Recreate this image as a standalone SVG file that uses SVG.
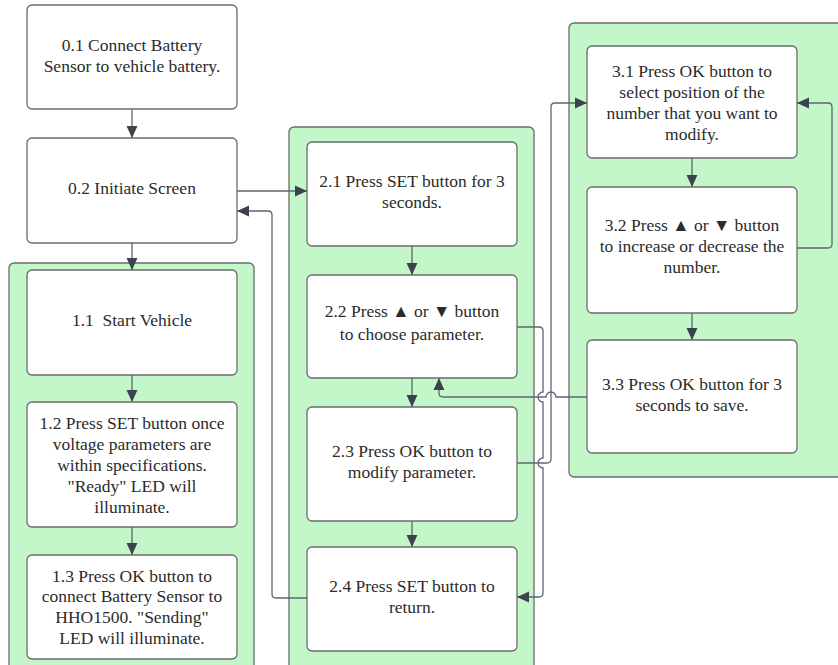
<svg xmlns="http://www.w3.org/2000/svg" width="838" height="665" viewBox="0 0 838 665">
<style>
.bg{fill:#ffffff}
.cont{fill:#c3f6c8;stroke:#6b6b6b;stroke-width:1.3}
.box{fill:#ffffff;stroke:#6b6b6b;stroke-width:1.3}
.t{font-family:"Liberation Serif","Times New Roman",serif;font-size:17.5px;fill:#2b2b2b;text-anchor:middle}
.c{fill:none;stroke:#5f6670;stroke-width:1.3}
</style>
<defs>
<marker id="ah" markerUnits="userSpaceOnUse" markerWidth="12" markerHeight="12" viewBox="0 0 11 10" refX="11" refY="5" orient="auto">
<path d="M0,0 L11,5 L0,10 z" fill="#3b424c"/>
</marker>
</defs>
<rect class="bg" x="0" y="0" width="838" height="665"/>
<g id="container1"><rect class="cont" x="9" y="263" width="245" height="420" rx="5"/></g>
<g id="container2"><rect class="cont" x="289" y="127" width="245" height="560" rx="5"/></g>
<g id="container3"><rect class="cont" x="569" y="23" width="290" height="454" rx="5"/></g>

<g id="connectors">
<path class="c" d="M132,109 V138" marker-end="url(#ah)"/>
<path class="c" d="M132,243 V270" marker-end="url(#ah)"/>
<path class="c" d="M132,375 V402" marker-end="url(#ah)"/>
<path class="c" d="M132,527 V555" marker-end="url(#ah)"/>
<path class="c" d="M412,246 V275" marker-end="url(#ah)"/>
<path class="c" d="M412,378 V407" marker-end="url(#ah)"/>
<path class="c" d="M412,521 V547" marker-end="url(#ah)"/>
<path class="c" d="M692,158 V187" marker-end="url(#ah)"/>
<path class="c" d="M692,313 V340" marker-end="url(#ah)"/>
<path class="c" d="M237,191 H307" marker-end="url(#ah)"/>
<path class="c" d="M307,598 H276 Q272,598 272,594 V215 Q272,211 268,211 H237" marker-end="url(#ah)"/>
<path class="c" d="M517,327 H539 Q543,327 543,331 V392 A5,5 0 0 0 543,402 V458 A5,5 0 0 0 543,468 V593 Q543,597 539,597 H517" marker-end="url(#ah)"/>
<path class="c" d="M517,463 H547 Q551,463 551,459 V107 Q551,103 555,103 H587" marker-end="url(#ah)"/>
<path class="c" d="M587,397 H556 A5,5 0 0 0 546,397 H443 Q439,397 439,393 V378" marker-end="url(#ah)"/>
<path class="c" d="M797,248 H828 Q832,248 832,244 V107 Q832,103 828,103 H797" marker-end="url(#ah)"/>
</g>

<g id="n01"><rect class="box" x="27" y="5" width="210" height="104" rx="5"/>
<text class="t"><tspan x="132" y="51">0.1 Connect Battery</tspan><tspan x="132" y="72">Sensor to vehicle battery.</tspan></text></g>
<g id="n02"><rect class="box" x="27" y="138" width="210" height="105" rx="5"/>
<text class="t" x="132" y="194">0.2 Initiate Screen</text></g>
<g id="n11"><rect class="box" x="27" y="270" width="210" height="105" rx="5"/>
<text class="t" x="132" y="326" xml:space="preserve" style="white-space:pre">1.1  Start Vehicle</text></g>
<g id="n12"><rect class="box" x="27" y="402" width="210" height="125" rx="5"/>
<text class="t"><tspan x="132" y="429">1.2 Press SET button once</tspan><tspan x="132" y="450">voltage parameters are</tspan><tspan x="132" y="471">within specifications.</tspan><tspan x="132" y="492">"Ready" LED will</tspan><tspan x="132" y="513">illuminate.</tspan></text></g>
<g id="n13"><rect class="box" x="27" y="555" width="210" height="104" rx="5"/>
<text class="t"><tspan x="132" y="582">1.3 Press OK button to</tspan><tspan x="132" y="602">connect Battery Sensor to</tspan><tspan x="132" y="623">HHO1500. "Sending"</tspan><tspan x="132" y="644">LED will illuminate.</tspan></text></g>

<g id="n21"><rect class="box" x="307" y="142" width="210" height="104" rx="5"/>
<text class="t"><tspan x="412" y="187">2.1 Press SET button for 3</tspan><tspan x="412" y="208">seconds.</tspan></text></g>
<g id="n22"><rect class="box" x="307" y="275" width="210" height="103" rx="5"/>
<text class="t"><tspan x="412" y="317">2.2 Press ▲ or ▼ button</tspan><tspan x="412" y="340">to choose parameter.</tspan></text></g>
<g id="n23"><rect class="box" x="307" y="407" width="210" height="114" rx="5"/>
<text class="t"><tspan x="412" y="457">2.3 Press OK button to</tspan><tspan x="412" y="478">modify parameter.</tspan></text></g>
<g id="n24"><rect class="box" x="307" y="547" width="210" height="104" rx="5"/>
<text class="t"><tspan x="412" y="592">2.4 Press SET button to</tspan><tspan x="412" y="613">return.</tspan></text></g>

<g id="n31"><rect class="box" x="587" y="46" width="210" height="112" rx="5"/>
<text class="t"><tspan x="692" y="77">3.1 Press OK button to</tspan><tspan x="692" y="98">select position of the</tspan><tspan x="692" y="119">number that you want to</tspan><tspan x="692" y="140">modify.</tspan></text></g>
<g id="n32"><rect class="box" x="587" y="187" width="210" height="126" rx="5"/>
<text class="t"><tspan x="692" y="231">3.2 Press ▲ or ▼ button</tspan><tspan x="692" y="252">to increase or decrease the</tspan><tspan x="692" y="273">number.</tspan></text></g>
<g id="n33"><rect class="box" x="587" y="340" width="210" height="113" rx="5"/>
<text class="t"><tspan x="692" y="390">3.3 Press OK button for 3</tspan><tspan x="692" y="411">seconds to save.</tspan></text></g>
</svg>
